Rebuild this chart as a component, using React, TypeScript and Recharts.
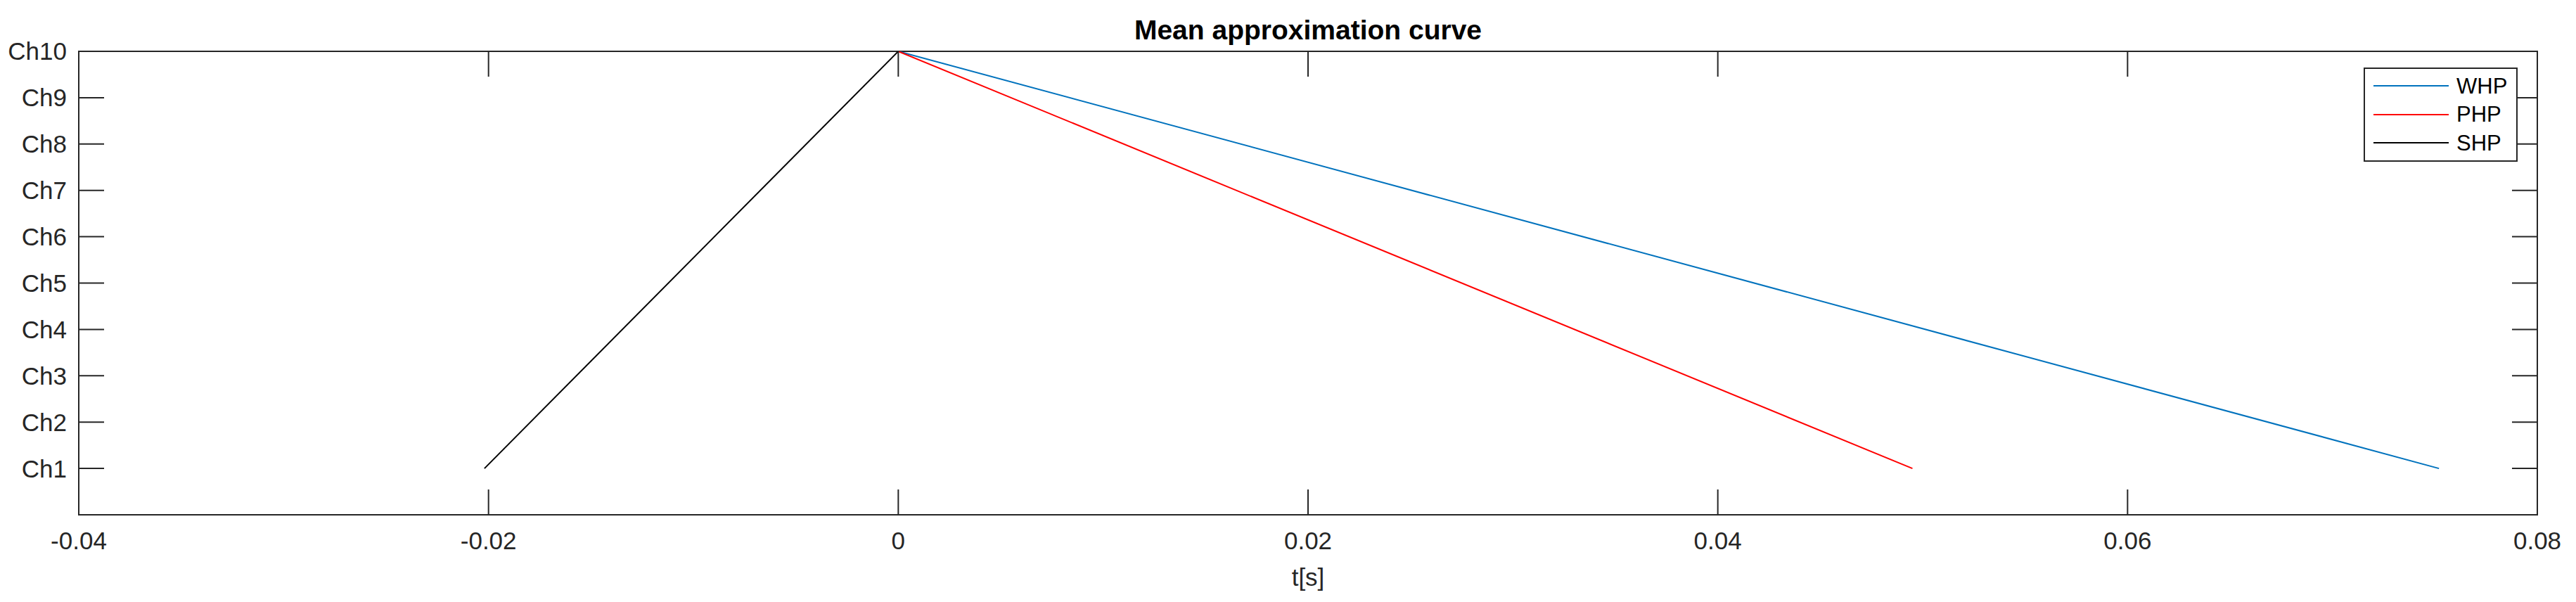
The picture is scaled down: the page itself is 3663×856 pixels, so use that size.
import React from 'react';
import { LineChart, Line, XAxis, YAxis, ReferenceArea } from 'recharts';

// axis ticks
const xTicks = [-0.04, -0.02, 0, 0.02, 0.04, 0.06, 0.08];
const xTickLabels = ['-0.04', '-0.02', '0', '0.02', '0.04', '0.06', '0.08'];
const yTicks = [1, 2, 3, 4, 5, 6, 7, 8, 9, 10];
const yTickLabels = ['Ch1', 'Ch2', 'Ch3', 'Ch4', 'Ch5', 'Ch6', 'Ch7', 'Ch8', 'Ch9', 'Ch10'];

// series: time [s] per channel (end points)
const whpTimes = [0, 0.0752];
const whpChannels = [10, 1];
const phpTimes = [0, 0.0495];
const phpChannels = [10, 1];
const shpTimes = [-0.0202, 0];
const shpChannels = [1, 10];

const seriesNames = ['WHP', 'PHP', 'SHP'];
const seriesColors = ['#0072BD', '#FF0000', '#000000'];

const toPoints = (t: number[], ch: number[]) => t.map((v, i) => ({ t: v, ch: ch[i] }));
const seriesData = [toPoints(whpTimes, whpChannels), toPoints(phpTimes, phpChannels), toPoints(shpTimes, shpChannels)];

const FONT = '"Liberation Sans", Arial, Helvetica, sans-serif';
const AX = '#262626';
const TICK_LEN = 36;
const W = 3663;
const H = 856;
const MARGIN = { top: 73, right: 55, bottom: 0, left: 0 };
const PLOT_TOP = MARGIN.top;
const PLOT_RIGHT = W - MARGIN.right;

// inward ticks on bottom + mirrored on top
function BottomTick(props: any) {
  const { x, y, payload } = props;
  const idx = xTicks.indexOf(payload.value);
  const label = idx >= 0 ? xTickLabels[idx] : String(payload.value);
  const axisY = y - 24;
  return (
    <g>
      <line x1={x} x2={x} y1={axisY} y2={axisY - TICK_LEN} stroke={AX} strokeWidth={2} />
      <line x1={x} x2={x} y1={PLOT_TOP} y2={PLOT_TOP + TICK_LEN} stroke={AX} strokeWidth={2} />
      <text x={x} y={y} dy="0.71em" textAnchor="middle" fontSize={35} fill={AX} fontFamily={FONT}>{label}</text>
    </g>
  );
}

// inward ticks on left + mirrored on right
function LeftTick(props: any) {
  const { x, y, payload } = props;
  const idx = yTicks.indexOf(payload.value);
  const label = idx >= 0 ? yTickLabels[idx] : String(payload.value);
  const axisX = x + 17;
  return (
    <g>
      <line x1={axisX} x2={axisX + TICK_LEN} y1={y} y2={y} stroke={AX} strokeWidth={2} />
      <line x1={PLOT_RIGHT} x2={PLOT_RIGHT - TICK_LEN} y1={y} y2={y} stroke={AX} strokeWidth={2} />
      <text x={x} y={y} dy="0.355em" textAnchor="end" fontSize={35} fill={AX} fontFamily={FONT}>{label}</text>
    </g>
  );
}

export default function App() {
  return (
    <div style={{ position: 'absolute', left: 0, top: 0, width: W, height: H, background: '#fff', fontFamily: FONT }}>
      <LineChart width={W} height={H} margin={MARGIN}>
        <XAxis
          dataKey="t"
          type="number"
          domain={[-0.04, 0.08]}
          ticks={xTicks}
          interval={0}
          allowDataOverflow
          height={124}
          tickLine={false}
          tickSize={0}
          tickMargin={24}
          axisLine={false}
          tick={(p: any) => <BottomTick {...p} />}
          label={{ value: 't[s]', position: 'insideBottom', offset: 23, fontSize: 35, fill: AX, fontFamily: FONT }}
        />
        <YAxis
          type="number"
          domain={[0, 10]}
          ticks={yTicks}
          interval={0}
          allowDataOverflow
          width={112}
          tickLine={false}
          tickSize={0}
          tickMargin={17}
          axisLine={false}
          tick={(p: any) => <LeftTick {...p} />}
        />
        {/* axes box */}
        <ReferenceArea x1={-0.04} x2={0.08} y1={0} y2={10} fill="none" fillOpacity={0} stroke={AX} strokeWidth={2} />
        {seriesData.map((d, i) => (
          <Line
            key={seriesNames[i]}
            data={d}
            dataKey="ch"
            name={seriesNames[i]}
            type="linear"
            stroke={seriesColors[i]}
            strokeWidth={2}
            dot={false}
            activeDot={false}
            isAnimationActive={false}
          />
        ))}
      </LineChart>

      <div style={{ position: 'absolute', left: 112, top: 23, width: 3496, textAlign: 'center', fontSize: 39, lineHeight: '39px', fontWeight: 'bold', color: '#000' }}>
        Mean approximation curve
      </div>

      <div style={{ position: 'absolute', left: 3361, top: 96, width: 219, height: 134, boxSizing: 'border-box', border: `2px solid ${AX}`, background: '#fff', paddingTop: 4 }}>
        {seriesNames.map((n, i) => (
          <div key={n} style={{ display: 'flex', alignItems: 'center', height: 40.5 }}>
            <div style={{ marginLeft: 12, width: 107, height: 2, background: seriesColors[i] }} />
            <div style={{ marginLeft: 11, fontSize: 31, lineHeight: '31px', color: '#000' }}>{n}</div>
          </div>
        ))}
      </div>
    </div>
  );
}
